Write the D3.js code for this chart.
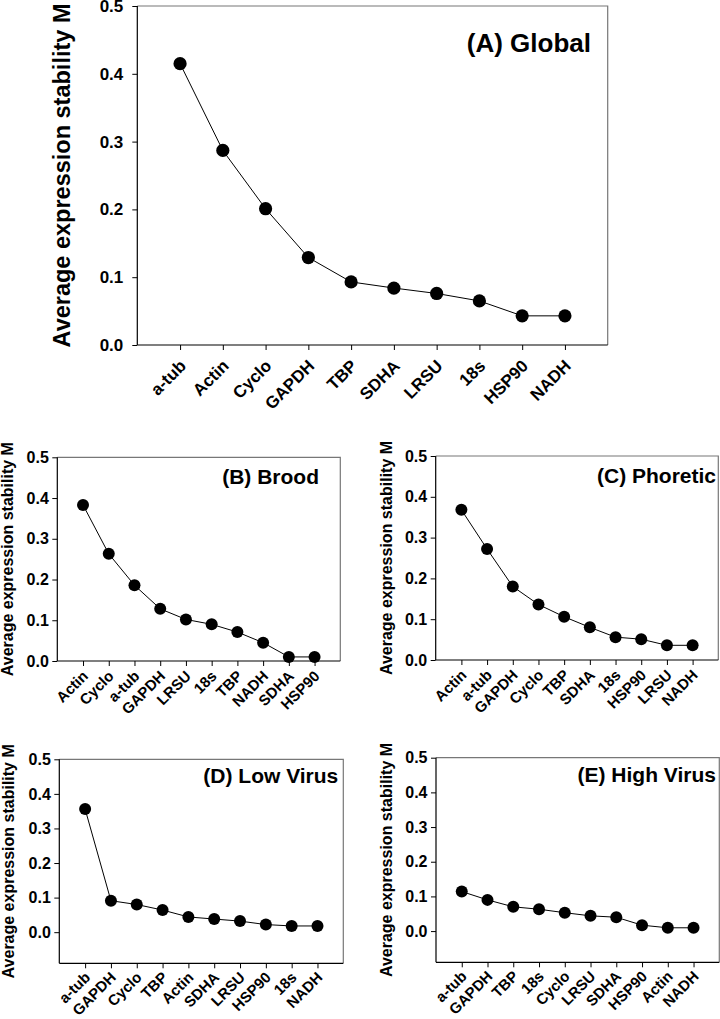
<!DOCTYPE html>
<html>
<head>
<meta charset="utf-8">
<script src="https://cdn.jsdelivr.net/npm/d3@7"></script>
<style>
  html, body { margin: 0; padding: 0; background: #fff; }
  svg { display: block; }
  text { font-family: "Liberation Sans", Arial, sans-serif; font-weight: bold; fill: #000; }
</style>
</head>
<body>
<svg id="chart" width="720" height="1019"></svg>
<script>
// ---------- data ----------
const yTickValues = [0.0, 0.1, 0.2, 0.3, 0.4, 0.5];
const yAxisTitle = "Average expression stability M";

const globalTitle = "(A) Global";
const globalGenes = ["a-tub", "Actin", "Cyclo", "GAPDH", "TBP", "SDHA", "LRSU", "18s", "HSP90", "NADH"];
const globalM     = [0.415, 0.287, 0.201, 0.129, 0.093, 0.084, 0.076, 0.065, 0.043, 0.043];

const broodTitle = "(B) Brood";
const broodGenes = ["Actin", "Cyclo", "a-tub", "GAPDH", "LRSU", "18s", "TBP", "NADH", "SDHA", "HSP90"];
const broodM     = [0.383, 0.263, 0.186, 0.128, 0.102, 0.090, 0.071, 0.045, 0.010, 0.010];

const phoreticTitle = "(C) Phoretic";
const phoreticGenes = ["Actin", "a-tub", "GAPDH", "Cyclo", "TBP", "SDHA", "18s", "HSP90", "LRSU", "NADH"];
const phoreticM     = [0.368, 0.272, 0.180, 0.136, 0.106, 0.080, 0.056, 0.051, 0.036, 0.036];

const lowTitle = "(D) Low Virus";
const lowGenes = ["a-tub", "GAPDH", "Cyclo", "TBP", "Actin", "SDHA", "LRSU", "HSP90", "18s", "NADH"];
const lowM     = [0.356, 0.091, 0.080, 0.064, 0.044, 0.038, 0.032, 0.022, 0.018, 0.018];

const highTitle = "(E) High Virus";
const highGenes = ["a-tub", "GAPDH", "TBP", "18s", "Cyclo", "LRSU", "SDHA", "HSP90", "Actin", "NADH"];
const highM     = [0.114, 0.090, 0.070, 0.063, 0.053, 0.044, 0.040, 0.017, 0.0095, 0.0095];

// ---------- layout ----------
const panels = [
  { title: globalTitle, genes: globalGenes, values: globalM,
    x0: 137.3, x1: 607.7, y0: 6, y1: 345, ymin: 0,
    tickFont: 17, xFont: 17, titleFont: 26, axFont: 23.5, r: 6.6,
    tickPad: 9, titleX: 591, titleY: 52, axX: 70, xdx: 7, xdy: 22 },
  { title: broodTitle, genes: broodGenes, values: broodM,
    x0: 57.3, x1: 340.3, y0: 457.3, y1: 661, ymin: 0,
    tickFont: 16, xFont: 15, titleFont: 21, axFont: 16, r: 6,
    tickPad: 3.5, titleX: 319, titleY: 483.5, axX: 13, xdx: 6, xdy: 16 },
  { title: phoreticTitle, genes: phoreticGenes, values: phoreticM,
    x0: 435.7, x1: 718.3, y0: 456, y1: 660, ymin: 0,
    tickFont: 16, xFont: 15, titleFont: 21, axFont: 16, r: 6,
    tickPad: 3.5, titleX: 716, titleY: 483.3, axX: 391.7, xdx: 6, xdy: 16 },
  { title: lowTitle, genes: lowGenes, values: lowM,
    x0: 59.3, x1: 343.3, y0: 759.3, y1: 963.3, ymin: -0.09,
    tickFont: 16, xFont: 15, titleFont: 21, axFont: 16, r: 6,
    tickPad: 3.5, titleX: 338.3, titleY: 782.7, axX: 14, xdx: 6, xdy: 15 },
  { title: highTitle, genes: highGenes, values: highM,
    x0: 436, x1: 719.3, y0: 757.7, y1: 962.3, ymin: -0.09,
    tickFont: 16, xFont: 15, titleFont: 21, axFont: 16, r: 6,
    tickPad: 3.5, titleX: 716, titleY: 781.7, axX: 391.7, xdx: 6, xdy: 15 }
];

const svg = d3.select("#chart");

panels.forEach(p => {
  const g = svg.append("g");
  const x = d3.scaleLinear().domain([0, p.genes.length + 1]).range([p.x0, p.x1]);
  const y = d3.scaleLinear().domain([p.ymin, 0.5]).range([p.y1, p.y0]);
  const pos = d => p.genes.indexOf(d) + 1;

  // frame top/right (grey)
  g.append("path")
    .attr("d", `M${p.x0},${p.y0}H${p.x1}V${p.y1}`)
    .attr("fill", "none").attr("stroke", "#777").attr("stroke-width", 1.2);

  // y axis
  const yAxis = d3.axisLeft(y).tickValues(yTickValues).tickFormat(d3.format(".1f"))
    .tickSize(5).tickPadding(p.tickPad);
  const ga = g.append("g").attr("transform", `translate(${p.x0},0)`).call(yAxis);
  ga.attr("font-size", p.tickFont).attr("font-family", null);
  ga.select(".domain").attr("d", `M0,${p.y0}V${p.y1}`).attr("stroke", "#000").attr("stroke-width", 1.2);
  ga.selectAll(".tick line").attr("stroke", "#000");
  ga.selectAll(".tick text").attr("fill", "#000");

  // x axis (ticks only; labels drawn separately)
  const xAxis = d3.axisBottom(x).tickValues(p.genes.map(pos)).tickFormat("").tickSize(5);
  const gx = g.append("g").attr("transform", `translate(0,${p.y1})`).call(xAxis);
  gx.select(".domain").attr("d", `M${p.x0},0H${p.x1}`).attr("stroke", "#000").attr("stroke-width", 1.2);
  gx.selectAll(".tick line").attr("stroke", "#000");
  gx.selectAll(".tick text").remove();

  // rotated category labels (SVG transform attribute plus equivalent CSS transform)
  g.selectAll("text.xl").data(p.genes).enter().append("text")
    .attr("class", "xl")
    .attr("font-size", p.xFont)
    .attr("text-anchor", "end")
    .attr("transform", d => `translate(${x(pos(d)) + p.xdx},${p.y1 + p.xdy}) rotate(-45)`)
    .style("transform-origin", "0 0")
    .style("transform", d => `translate(${x(pos(d)) + p.xdx}px, ${p.y1 + p.xdy}px) rotate(-45deg)`)
    .text(d => d);

  // line
  const line = d3.line().x((d, i) => x(i + 1)).y(d => y(d));
  g.append("path").datum(p.values).attr("d", line)
    .attr("fill", "none").attr("stroke", "#000").attr("stroke-width", 1);

  // points
  g.selectAll("circle.pt").data(p.values).enter().append("circle")
    .attr("class", "pt")
    .attr("cx", (d, i) => x(i + 1)).attr("cy", d => y(d)).attr("r", p.r)
    .attr("fill", "#000");

  // panel title
  g.append("text").attr("x", p.titleX).attr("y", p.titleY)
    .attr("text-anchor", "end").attr("font-size", p.titleFont).text(p.title);

  // y axis title
  const cy = (p.y0 + p.y1) / 2;
  g.append("text").attr("transform", `translate(${p.axX},${cy}) rotate(-90)`)
    .attr("text-anchor", "middle").attr("font-size", p.axFont).text(yAxisTitle);
});
</script>
</body>
</html>
